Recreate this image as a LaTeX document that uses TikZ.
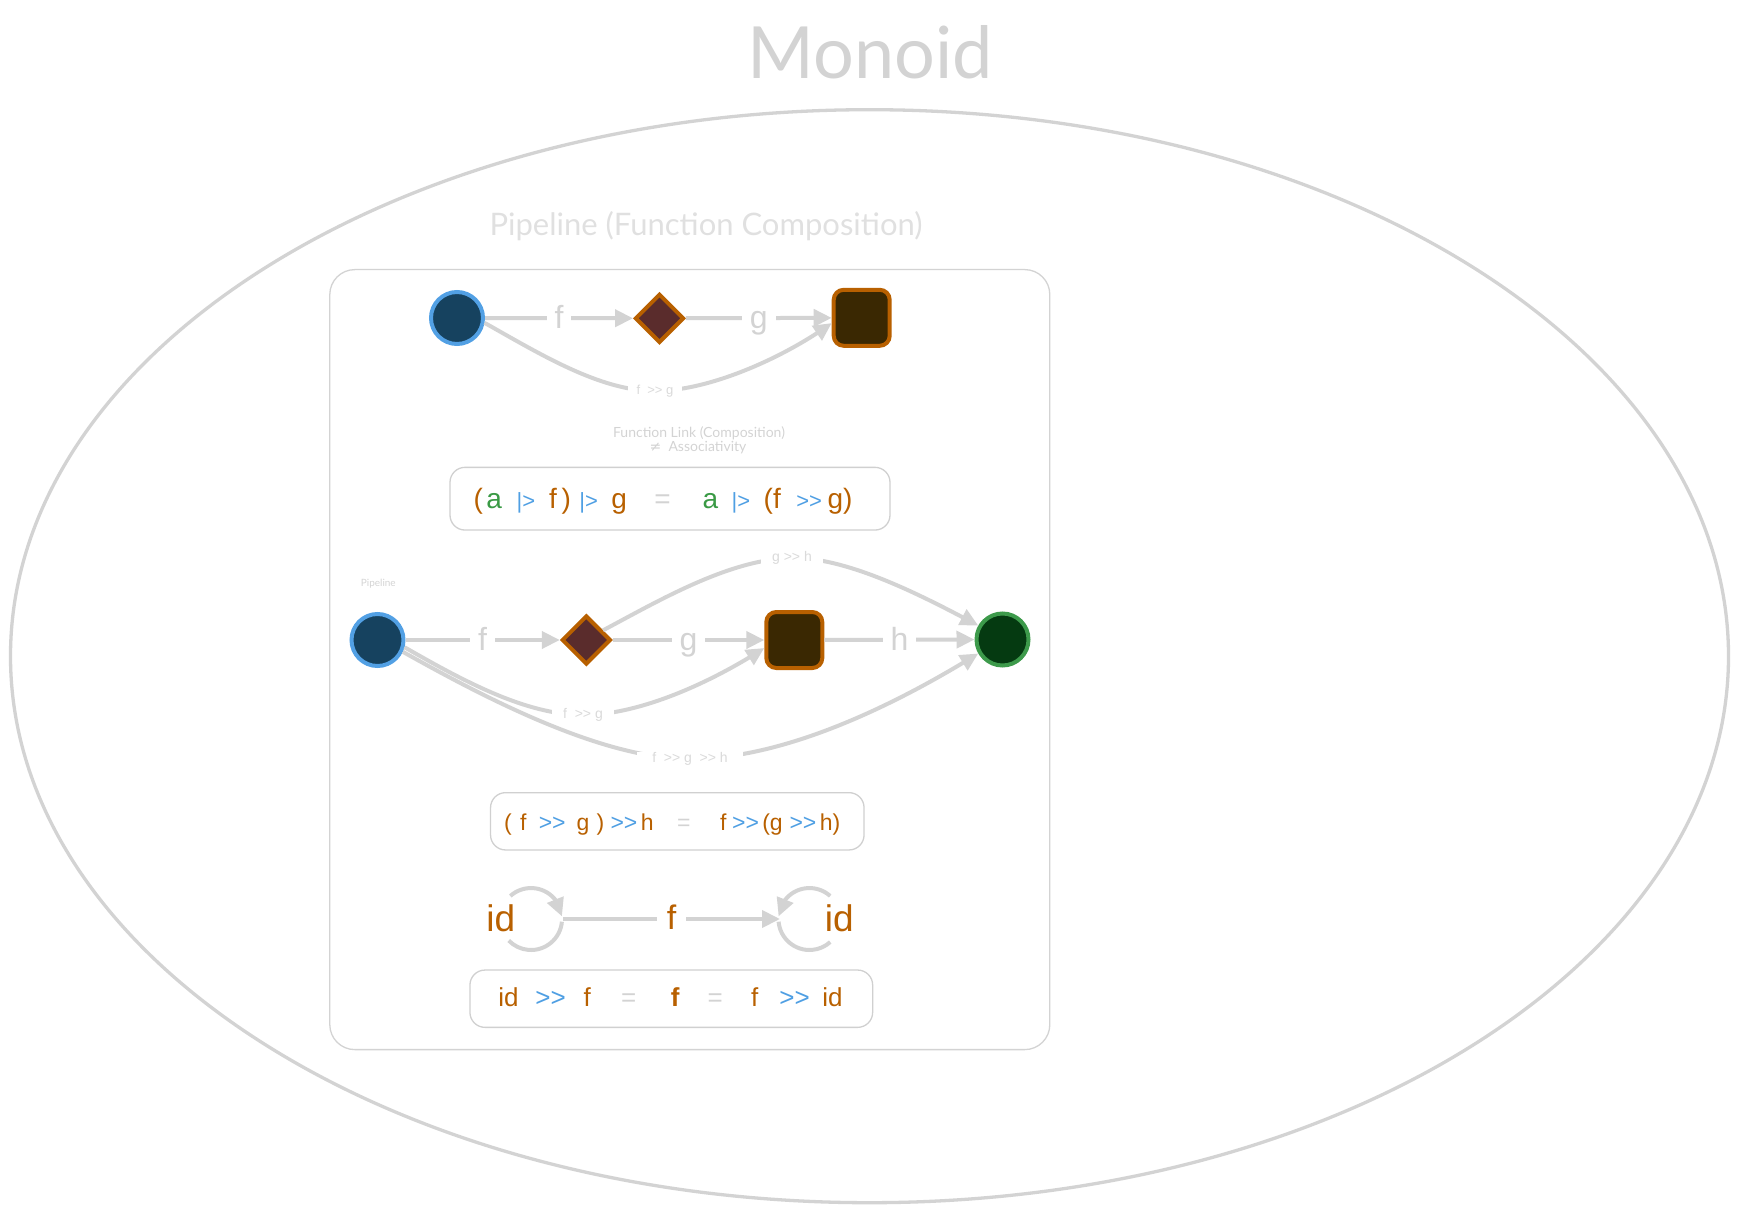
\documentclass[tikz,border=0pt]{standalone}
\usepackage{fontspec}
\setmainfont{Liberation Sans}
\newfontfamily\hand{Lato}
\newfontfamily\symf{DejaVu Sans}
\usetikzlibrary{arrows.meta,shapes.geometric,bending}
\definecolor{lgray}{HTML}{D3D3D3}
\definecolor{sgray}{HTML}{DADADA}
\definecolor{subc}{HTML}{E0E0E0}
\definecolor{boxc}{HTML}{D0D0D0}
\definecolor{orng}{HTML}{B86000}
\definecolor{grn}{HTML}{3A9A45}
\definecolor{blu}{HTML}{4F9FE3}
\definecolor{bluefill}{HTML}{16425F}
\definecolor{bluedge}{HTML}{52A0E4}
\definecolor{dmdfill}{HTML}{5A2C2C}
\definecolor{sqfill}{HTML}{3A2802}
\definecolor{gfill}{HTML}{053A11}
\definecolor{gedge}{HTML}{3D9A4B}
\newcommand\tokat[2]{\rlap{\hspace*{#1pt}#2}}
\newcommand\opA[1]{{\fontsize{22}{26}\selectfont\textcolor{blu}{#1}}}
\newcommand\opB[1]{\textcolor{blu}{#1}}
\newcommand\oc[1]{\textcolor{orng}{#1}}
\newcommand\gc[1]{\textcolor{grn}{#1}}
\newcommand\eqc[1]{\textcolor{lgray}{#1}}
\newcommand\cmp{>{}>}
\begin{document}
\begin{tikzpicture}[x=1pt,y=1pt,
  cline/.style={draw=lgray, line width=4pt},
  arr/.style={-{Triangle[length=18pt,width=17pt]}},
  elab/.style={fill=white, text=lgray, font=\fontsize{32}{38}\selectfont, inner xsep=8pt, inner ysep=1pt, text height=23pt, text depth=2.5pt},
  slab/.style={fill=white, text=sgray, font=\fontsize{13}{15}\selectfont, inner xsep=9pt, inner ysep=1.5pt, text height=9.4pt, text depth=2pt},
  slabb/.style={slab, font=\fontsize{14}{16}\selectfont, inner xsep=11pt},
  flab/.style={fill=white, text=orng, font=\fontsize{34}{40}\selectfont, inner xsep=10pt, inner ysep=1pt, text height=24pt, text depth=2.5pt},
  idl/.style={text=orng, font=\fontsize{37}{42}\selectfont, inner sep=0pt, anchor=base},
  bcirc/.style={circle, minimum size=52pt, inner sep=0pt, line width=4pt, draw=bluedge, fill=bluefill},
  gcirc/.style={circle, minimum size=52pt, inner sep=0pt, line width=4pt, draw=gedge, fill=gfill},
  dmd/.style={diamond, minimum size=49pt, inner sep=0pt, line width=4pt, draw=orng, fill=dmdfill},
  sqr/.style={rectangle, rounded corners=10pt, minimum size=56pt, inner sep=0pt, line width=4pt, draw=orng, fill=sqfill},
  eqbox/.style={draw=boxc, line width=1.3pt, rounded corners=15pt, inner sep=0pt},
  eqtxt/.style={anchor=base west, inner sep=0pt}
]
\useasboundingbox (0,0) rectangle (1740,-1214);
% outer ellipse and title
\node[ellipse, draw=lgray, line width=3.3pt, minimum width=1718pt, minimum height=1093pt, inner sep=0pt] (ell) at (869.5,-656.2) {};
\node[font=\hand\fontsize{72}{80}\selectfont, text=lgray, anchor=base, inner sep=0pt] (title) at (870,-79) {Monoid};
\node[font=\hand\fontsize{31}{36}\selectfont, text=subc, anchor=base, inner sep=0pt] (sub) at (706,-236) {Pipeline (Function Composition)};
% cluster
\node[draw=lgray, line width=1.3pt, rounded corners=25pt, minimum width=720pt, minimum height=780pt, inner sep=0pt] (clu) at (689.8,-659.6) {};
% row 1
\node[bcirc] (a1) at (457,-318) {};
\node[dmd] (b1) at (659.5,-318.3) {};
\node[sqr] (c1) at (861.7,-317.8) {};
\draw[cline,arr] (a1) -- node[elab] (lf1) {f} (b1);
\draw[cline,arr] (b1) -- node[elab] (lg1) {g} (c1);
\draw[cline,arr] (a1.-10) .. controls (540,-354) and (600,-391) .. (655,-391)
  node[slab] (lfg1) {f\ \ \cmp\ g}
  .. controls (710,-391) and (785,-357) .. (c1.190);
\node[font=\hand\fontsize{14}{16}\selectfont, text=lgray, anchor=base, inner sep=0pt] (fl1) at (699,-437) {Function Link (Composition)};
\node[font=\hand\fontsize{14}{16}\selectfont, text=lgray, anchor=base, inner sep=0pt] (fl2) at (698,-451) {{\symf ≠}\ \ Associativity};
% equation 1
\node[eqbox, minimum width=440pt, minimum height=62.7pt] (box1) at (670,-498.7) {};
\node[eqtxt, font=\fontsize{28}{32}\selectfont] (eq1) at (473,-508) {%
\tokat{0}{\oc{(}}\tokat{12.6}{\gc{a}}\tokat{42.9}{\opA{|>}}\tokat{75.5}{\oc{f}}%
\tokat{87.9}{\oc{)}}\tokat{105.6}{\opA{|>}}\tokat{137.6}{\oc{g}}\tokat{180.6}{\eqc{=}}%
\tokat{228.9}{\gc{a}}\tokat{257.9}{\opA{|>}}\tokat{290}{\oc{(f}}\tokat{322.6}{\opA{\cmp}}%
\tokat{353.9}{\oc{g)}}};
% row 2
\node[font=\hand\fontsize{10}{12}\selectfont, text=lgray, anchor=base, inner sep=0pt] (pip) at (378.3,-586) {Pipeline};
\node[bcirc] (a2) at (377.5,-640) {};
\node[dmd] (b2) at (586.3,-640) {};
\node[sqr] (c2) at (794.3,-640) {};
\node[gcirc] (d2) at (1002.5,-639.5) {};
\draw[cline,arr] (a2) -- node[elab] (lf2) {f} (b2);
\draw[cline,arr] (b2) -- node[elab] (lg2) {g} (c2);
\draw[cline,arr] (c2) -- node[elab] (lh2) {h} (d2);
\draw[cline,arr] (b2.30) .. controls (660,-600) and (730,-559) .. (792,-558)
  node[slabb] (lgh) {g \cmp\ h}
  .. controls (850,-557) and (930,-600) .. (d2.150);
\draw[cline,arr] (a2.-15) .. controls (460,-679) and (525,-715) .. (583,-715)
  node[slabb] (lfg2) {f\ \ \cmp\ g}
  .. controls (640,-715) and (712,-682) .. (c2.195);
\draw[cline,arr] (a2.-25) .. controls (480,-695) and (600,-759) .. (690,-759)
  node[slabb,inner xsep=15pt] (lfgh) {f\ \ \cmp\ g\ \ \cmp\ h}
  .. controls (790,-759) and (905,-699) .. (d2.-150);
% equation 2
\node[eqbox, minimum width=373.5pt, minimum height=57.3pt] (box2) at (677.3,-821.3) {};
\node[eqtxt, font=\fontsize{23}{27}\selectfont] (eq2) at (503.3,-830) {%
\tokat{0}{\oc{(}}\tokat{16.2}{\oc{f}}\tokat{34.8}{\opB{\cmp}}\tokat{72.5}{\oc{g}}%
\tokat{92.7}{\oc{)}}\tokat{106.5}{\opB{\cmp}}\tokat{136.8}{\oc{h}}\tokat{173.2}{\eqc{=}}%
\tokat{216.2}{\oc{f}}\tokat{228.2}{\opB{\cmp}}\tokat{258.3}{\oc{(g}}\tokat{285.5}{\opB{\cmp}}%
\tokat{315.8}{\oc{h)}}};
% row 3: identity
\node[idl] (id1) at (500.8,-931.7) {id};
\node[idl] (id2) at (839.2,-931.7) {id};
\coordinate (j1) at (563,-919);
\coordinate (j2) at (780,-919);
\draw[cline,arr] (j1) -- node[flab] (lf3) {f} (j2);
\coordinate (l1a) at (510.3,-896);
\coordinate (l1b) at (561.9,-921.7);
\draw[cline,arr] (l1a) arc[start angle=132,end angle=5,radius=31];
\draw[cline] (l1b) arc[start angle=-5,end angle=-136,radius=31];
\coordinate (l2a) at (830.2,-896);
\coordinate (l2b) at (778.6,-921.7);
\draw[cline,arr] (l2a) arc[start angle=48,end angle=175,radius=31];
\draw[cline] (l2b) arc[start angle=185,end angle=312,radius=31];
% equation 3
\node[eqbox, minimum width=402.7pt, minimum height=57.3pt] (box3) at (671.3,-998.7) {};
\node[eqtxt, font=\fontsize{26}{30}\selectfont] (eq3) at (497.6,-1006.7) {%
\tokat{0}{\oc{id}}\tokat{37.1}{\opB{\cmp}}\tokat{85.2}{\oc{f}}\tokat{122.8}{\eqc{=}}%
\tokat{172.6}{\oc{\textbf{f}}}\tokat{209.4}{\eqc{=}}\tokat{252.9}{\oc{f}}\tokat{281.1}{\opB{\cmp}}%
\tokat{324}{\oc{id}}};
\end{tikzpicture}
\end{document}
